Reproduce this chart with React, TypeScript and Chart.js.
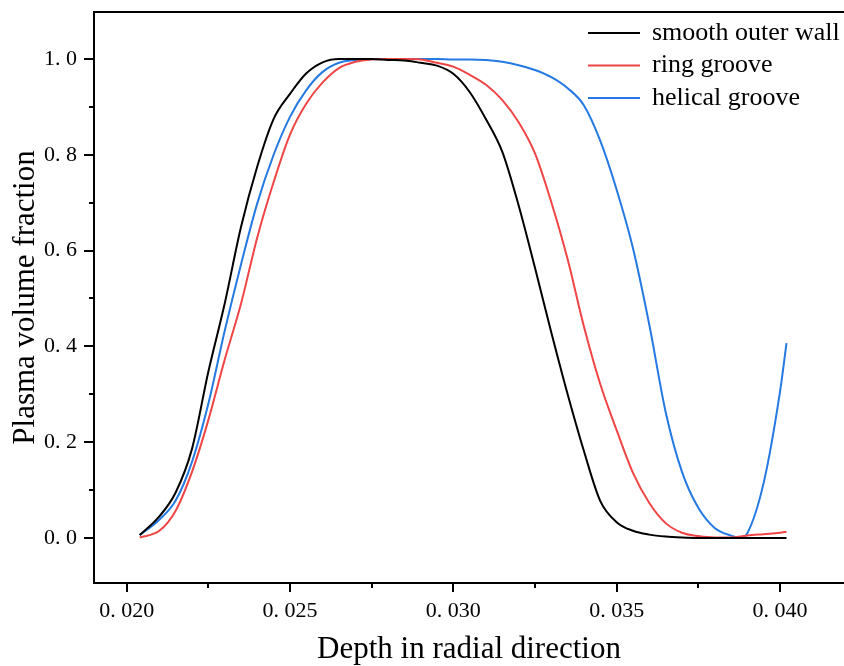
import React, { useEffect, useRef } from 'react';
import { Chart, registerables } from 'chart.js';

Chart.register(...registerables);

const DEPTH = [
  0.0204, 0.021, 0.0215, 0.022, 0.0225, 0.023, 0.0235, 0.024, 0.0245, 0.025,
  0.0255, 0.026, 0.0265, 0.027, 0.0275, 0.028, 0.0285, 0.029, 0.0295, 0.03,
  0.0305, 0.031, 0.0315, 0.032, 0.0325, 0.033, 0.0335, 0.034, 0.0345, 0.035,
  0.0355, 0.036, 0.0365, 0.037, 0.0375, 0.038, 0.0385, 0.0388, 0.039, 0.0395,
  0.04, 0.0402,
];

const SMOOTH_OUTER_WALL = [
  0.006, 0.045, 0.095, 0.186, 0.347, 0.489, 0.649, 0.776, 0.875, 0.927,
  0.97, 0.993, 1.0, 1.0, 1.0, 0.998, 0.997, 0.992, 0.986, 0.969,
  0.931, 0.874, 0.806, 0.694, 0.564, 0.429, 0.3, 0.181, 0.077, 0.033,
  0.015, 0.007, 0.003, 0.001, 0, 0, 0, 0, 0, 0,
  0, 0,
];

const RING_GROOVE = [
  0.001, 0.015, 0.057, 0.138, 0.246, 0.372, 0.489, 0.628, 0.743, 0.842,
  0.907, 0.951, 0.981, 0.994, 0.999, 1.0, 1.0, 0.999, 0.992, 0.984,
  0.967, 0.946, 0.914, 0.868, 0.803, 0.701, 0.582, 0.441, 0.321, 0.225,
  0.136, 0.073, 0.031, 0.011, 0.004, 0.001, 0.001, 0.003, 0.005, 0.008,
  0.011, 0.013,
];

const HELICAL_GROOVE = [
  0.006, 0.038, 0.078, 0.159, 0.28, 0.432, 0.571, 0.699, 0.8, 0.879,
  0.935, 0.973, 0.992, 0.998, 1.0, 1.0, 1.0, 1.0, 1.0, 0.999,
  0.999, 0.998, 0.994, 0.987, 0.977, 0.962, 0.939, 0.903, 0.829, 0.727,
  0.605, 0.445, 0.263, 0.138, 0.063, 0.021, 0.005, 0.001, 0.01, 0.115,
  0.305, 0.407,
];

const SERIES_LABELS = ['smooth outer wall', 'ring groove', 'helical groove'];
const SERIES_COLORS = ['#000000', '#EF4545', '#2479E2'];

const X_TICKS = [0.02, 0.025, 0.03, 0.035, 0.04];
const X_TICK_LABELS = ['0. 020', '0. 025', '0. 030', '0. 035', '0. 040'];
const X_MINOR = [0.0225, 0.0275, 0.0325, 0.0375];
const Y_TICKS = [0, 0.2, 0.4, 0.6, 0.8, 1.0];
const Y_TICK_LABELS = ['0. 0', '0. 2', '0. 4', '0. 6', '0. 8', '1. 0'];
const Y_MINOR = [0.1, 0.3, 0.5, 0.7, 0.9];

const X_TITLE = 'Depth in radial direction';
const Y_TITLE = 'Plasma volume fraction';

const SERIF = '"Liberation Serif", "Times New Roman", serif';

const framePlugin = {
  id: 'frame',
  afterDraw(chart: any) {
    const { ctx, chartArea, scales } = chart;
    const xs = scales.x;
    const ys = scales.y;
    ctx.save();
    ctx.strokeStyle = '#000';
    ctx.lineWidth = 2;
    ctx.beginPath();
    ctx.moveTo(chartArea.left - 1, chartArea.top);
    ctx.lineTo(chart.width, chartArea.top);
    ctx.stroke();
    const xt = (v: number, len: number) => {
      const p = Math.round(xs.getPixelForValue(v));
      ctx.beginPath();
      ctx.moveTo(p, chartArea.bottom);
      ctx.lineTo(p, chartArea.bottom + len);
      ctx.stroke();
    };
    const yt = (v: number, len: number) => {
      const p = Math.round(ys.getPixelForValue(v));
      ctx.beginPath();
      ctx.moveTo(chartArea.left, p);
      ctx.lineTo(chartArea.left - len, p);
      ctx.stroke();
    };
    X_TICKS.forEach((v) => xt(v, 9));
    X_MINOR.forEach((v) => xt(v, 5));
    Y_TICKS.forEach((v) => yt(v, 10));
    Y_MINOR.forEach((v) => yt(v, 5));
    ctx.restore();
  },
};

const legendPlugin = {
  id: 'insideLegend',
  afterDraw(chart: any) {
    const { ctx, chartArea } = chart;
    const x0 = chartArea.right - 256;
    ctx.save();
    ctx.font = `26px ${SERIF}`;
    ctx.textBaseline = 'middle';
    ctx.textAlign = 'left';
    chart.data.datasets.forEach((ds: any, i: number) => {
      const y = chartArea.top + 21 + i * 32.5;
      ctx.strokeStyle = ds.borderColor;
      ctx.lineWidth = 2;
      ctx.beginPath();
      ctx.moveTo(x0, y);
      ctx.lineTo(x0 + 52, y);
      ctx.stroke();
      ctx.fillStyle = '#000';
      ctx.fillText(ds.label, x0 + 64, y);
    });
    ctx.restore();
  },
};

export default function App() {
  const ref = useRef<HTMLCanvasElement | null>(null);

  useEffect(() => {
    if (!ref.current) return;
    const series = [SMOOTH_OUTER_WALL, RING_GROOVE, HELICAL_GROOVE];
    const chart = new Chart(ref.current, {
      type: 'line',
      data: {
        datasets: series.map((vals, i) => ({
          label: SERIES_LABELS[i],
          data: DEPTH.map((x, j) => ({ x, y: vals[j] })),
          borderColor: SERIES_COLORS[i],
          backgroundColor: SERIES_COLORS[i],
          borderWidth: 2,
          pointRadius: 0,
          cubicInterpolationMode: 'monotone',
          fill: false,
        })),
      },
      options: {
        animation: false,
        responsive: false,
        devicePixelRatio: 1,
        layout: { padding: { top: 12, right: 0, left: 0, bottom: 0 } },
        plugins: {
          legend: { display: false },
          tooltip: { enabled: false },
        },
        scales: {
          x: {
            type: 'linear',
            min: 0.019,
            max: 0.04196,
            grid: { display: false, drawTicks: false, tickLength: 0 },
            border: { display: true, color: '#000', width: 2 },
            afterBuildTicks: (scale: any) => {
              scale.ticks = X_TICKS.map((v) => ({ value: v }));
            },
            afterFit: (scale: any) => {
              scale.height = 83;
              scale.paddingLeft = 0;
              scale.paddingRight = 0;
            },
            ticks: {
              autoSkip: false,
              maxRotation: 0,
              padding: 15,
              color: '#000',
              font: { family: SERIF, size: 22 },
              callback: (_v: any, i: number) => X_TICK_LABELS[i],
            },
            title: {
              display: true,
              text: X_TITLE,
              color: '#000',
              font: { family: SERIF, size: 31, lineHeight: 1.0 },
              padding: { top: 0, bottom: 1 },
            },
          },
          y: {
            type: 'linear',
            min: -0.094,
            max: 1.098,
            grid: { display: false, drawTicks: false, tickLength: 0 },
            border: { display: true, color: '#000', width: 2 },
            afterBuildTicks: (scale: any) => {
              scale.ticks = Y_TICKS.map((v) => ({ value: v }));
            },
            afterFit: (scale: any) => {
              scale.width = 94;
              scale.paddingTop = 0;
              scale.paddingBottom = 0;
            },
            ticks: {
              autoSkip: false,
              padding: 17,
              color: '#000',
              font: { family: SERIF, size: 22 },
              callback: (_v: any, i: number) => Y_TICK_LABELS[i],
            },
            title: {
              display: true,
              text: Y_TITLE,
              color: '#000',
              font: { family: SERIF, size: 31, lineHeight: 1.2 },
              padding: { top: 7, bottom: 0 },
            },
          },
        },
      },
      plugins: [framePlugin, legendPlugin],
    } as any);
    return () => chart.destroy();
  }, []);

  return (
    <div style={{ position: 'fixed', left: 0, top: 0, width: 844, height: 666, background: '#fff' }}>
      <canvas ref={ref} width={844} height={666} style={{ display: 'block' }} />
    </div>
  );
}
